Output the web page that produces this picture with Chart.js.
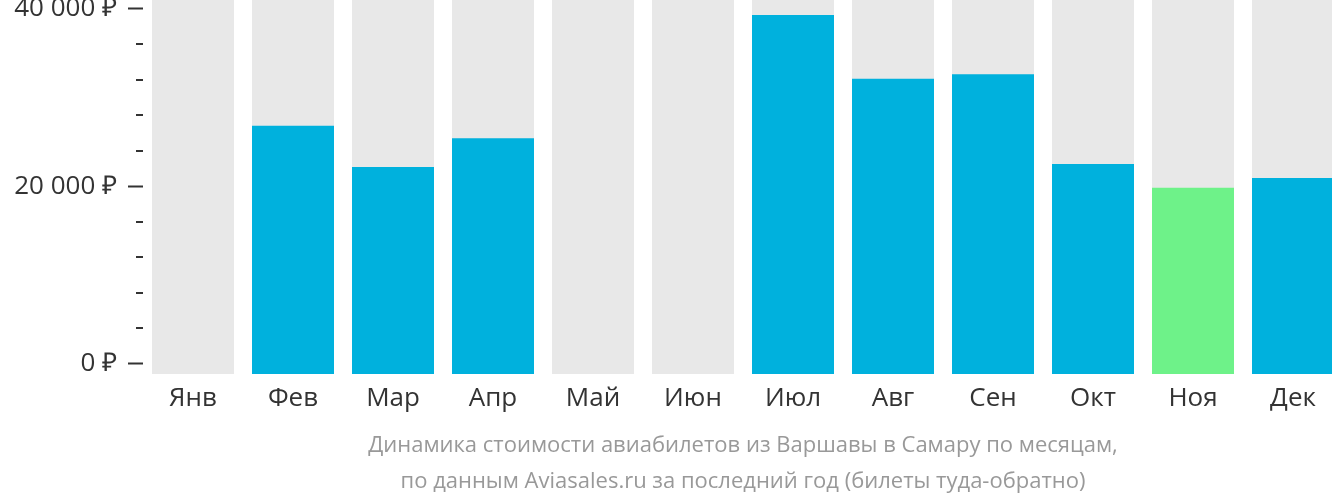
<!DOCTYPE html>
<html>
<head>
<meta charset="utf-8">
<script src="https://cdn.jsdelivr.net/npm/chart.js@4/dist/chart.umd.min.js"></script>
<style>
  html, body { margin: 0; padding: 0; background: #fff; overflow: hidden; }
  #wrap { width: 1343px; height: 502px; position: relative; }
</style>
</head>
<body>
<div id="wrap"><canvas id="myChart"></canvas></div>
<script>
// месяцы и цены (₽), null — нет данных
const months = ['Янв', 'Фев', 'Мар', 'Апр', 'Май', 'Июн', 'Июл', 'Авг', 'Сен', 'Окт', 'Ноя', 'Дек'];
const prices = [null, 26800, 22150, 25400, null, null, 39300, 32100, 32600, 22500, 19800, 20900];
const yMajor = [0, 20000, 40000];
const yMinor = [4000, 8000, 12000, 16000, 24000, 28000, 32000, 36000];
const caption = [
    'Динамика стоимости авиабилетов из Варшавы в Самару по месяцам,',
    'по данным Aviasales.ru за последний год (билеты туда-обратно)'
];

const yMin = -1184;
const yMax = 40981;

const cheapest = Math.min(...prices.filter(v => v !== null));
const barColors = prices.map(v => v === cheapest ? '#6ef289' : '#00b1dd');

function rub(v) {
    return String(v).replace(/\B(?=(\d{3})+(?!\d))/g, ' ') + ' ₽';
}

// короткие засечки между подписями
const minorTicks = {
    id: 'minorTicks',
    afterDraw(chart) {
        const y = chart.scales.y;
        const c = chart.ctx;
        c.save();
        c.strokeStyle = '#333';
        c.lineWidth = 2;
        yMinor.forEach(v => {
            const py = Math.round(y.getPixelForValue(v));
            c.beginPath();
            c.moveTo(y.right - 7, py);
            c.lineTo(y.right, py);
            c.stroke();
        });
        c.restore();
    }
};

const ctx = document.getElementById('myChart').getContext('2d');
const myChart = new Chart(ctx, {
    type: 'bar',
    data: {
        labels: months,
        datasets: [{
            label: 'Цена',
            data: prices,
            backgroundColor: barColors,
            base: yMin,
            grouped: false,
            barPercentage: 0.82,
            categoryPercentage: 1
        }, {
            label: 'Фон',
            data: months.map(() => yMax),
            backgroundColor: '#e8e8e8',
            base: yMin,
            grouped: false,
            barPercentage: 0.82,
            categoryPercentage: 1
        }]
    },
    options: {
        responsive: true,
        maintainAspectRatio: false,
        animation: false,
        layout: { padding: 0 },
        plugins: {
            legend: { display: false },
            tooltip: { enabled: false },
            title: {
                display: true,
                position: 'bottom',
                fullSize: false,
                text: caption,
                color: '#999',
                font: { family: 'Open Sans', size: 22, weight: 'normal', lineHeight: '36px' },
                padding: { top: 0, bottom: 2 }
            }
        },
        scales: {
            x: {
                grid: { display: false },
                border: { display: false },
                ticks: {
                    color: '#333',
                    font: { family: 'Open Sans', size: 26 },
                    padding: 1
                },
                afterFit(scale) { scale.height = 54; }
            },
            y: {
                min: yMin,
                max: yMax,
                afterBuildTicks(scale) {
                    scale.ticks = yMajor.map(v => ({ value: v }));
                },
                afterFit(scale) {
                    scale.width = 143;
                    scale.paddingTop = 0;
                    scale.paddingBottom = 0;
                },
                grid: {
                    drawOnChartArea: false,
                    drawTicks: true,
                    tickLength: 15,
                    tickWidth: 2,
                    tickColor: '#333'
                },
                border: { display: false },
                ticks: {
                    color: '#333',
                    font: { family: 'Open Sans', size: 26 },
                    padding: 11,
                    callback: v => rub(v)
                }
            }
        }
    },
    plugins: [minorTicks]
});
</script>
</body>
</html>
